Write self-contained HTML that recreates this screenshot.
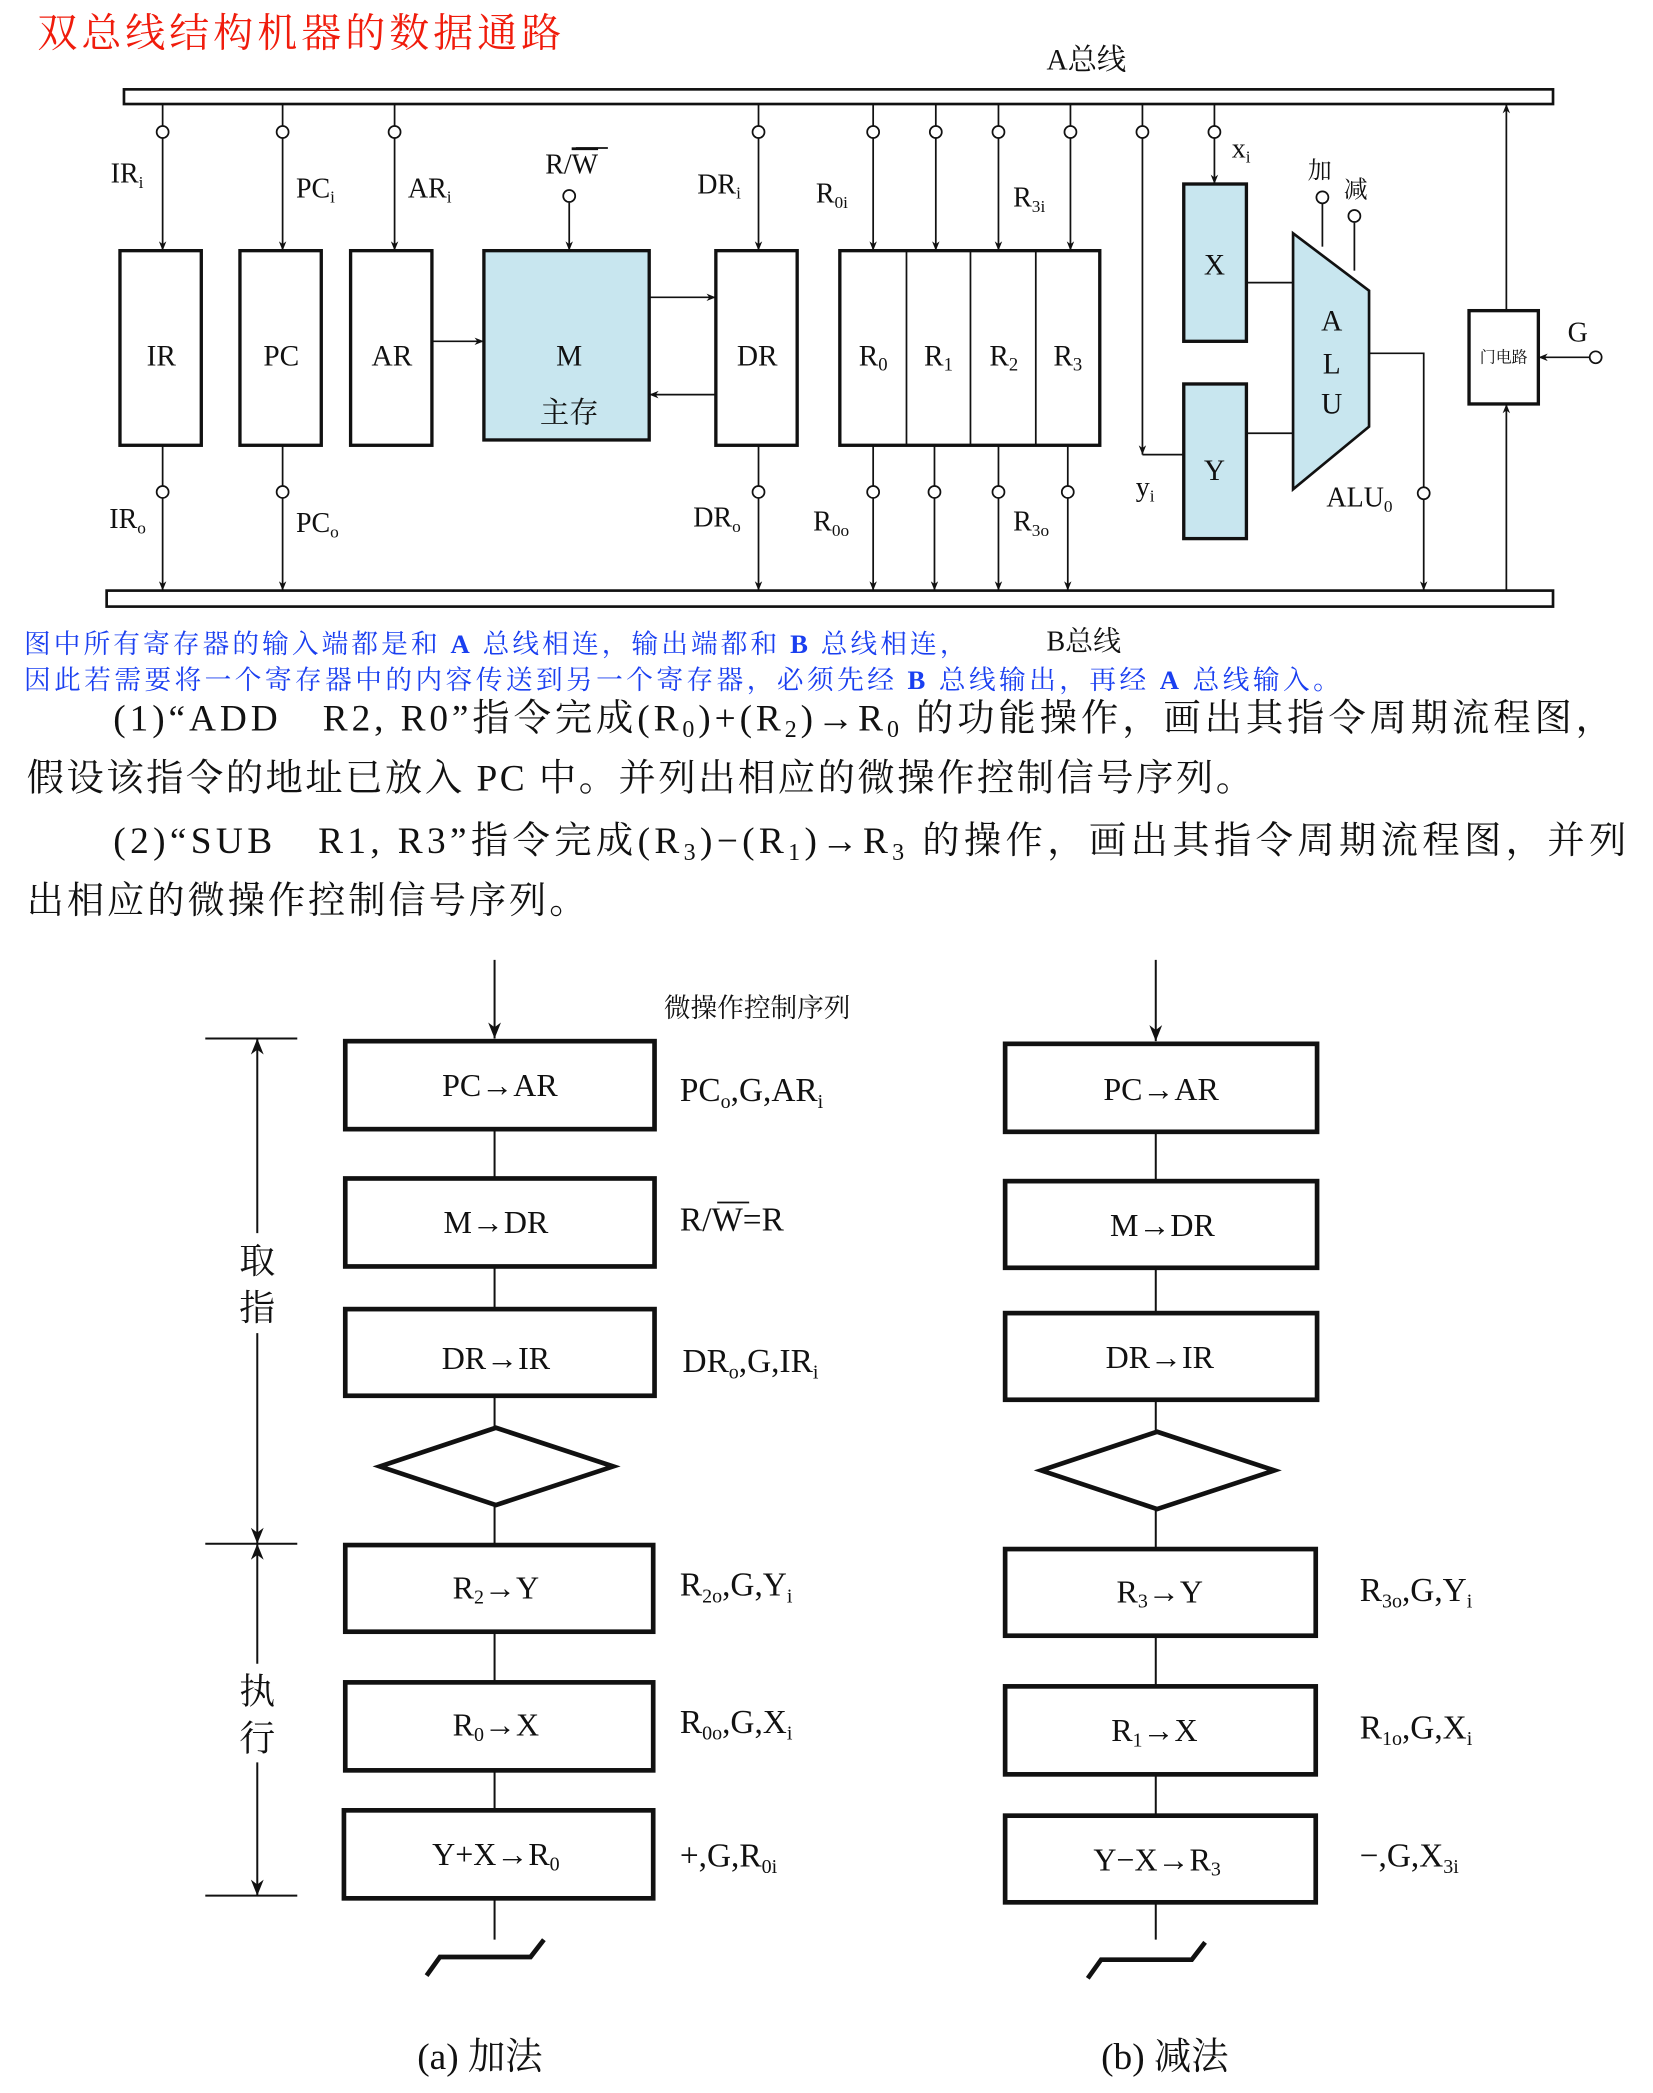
<!DOCTYPE html>
<html><head><meta charset="utf-8"><style>
html,body{margin:0;padding:0;background:#fff;}
svg{display:block;}
text{font-family:"Liberation Serif","Noto Serif CJK SC",serif;fill:#111;}
.cj{font-family:"Liberation Serif","Noto Serif CJK SC","Noto Sans CJK SC",serif;}
</style></head><body>
<svg width="1653" height="2093" viewBox="0 0 1240 1570" xmlns="http://www.w3.org/2000/svg">
<defs>
<marker id="a" viewBox="0 0 10 10" refX="10" refY="5" markerWidth="7" markerHeight="7" orient="auto-start-reverse" markerUnits="userSpaceOnUse"><path d="M0,1 L10,5 L0,9 L3,5 z" fill="#111"/></marker>
<marker id="b" viewBox="0 0 10 10" refX="10" refY="5" markerWidth="12" markerHeight="12" orient="auto-start-reverse" markerUnits="userSpaceOnUse"><path d="M0,1 L10,5 L0,9 L3,5 z" fill="#111"/></marker>
</defs>
<g stroke="#111" fill="none" stroke-width="1.3">
<!-- buses -->
<rect x="93" y="67" width="1072" height="11" stroke-width="2"/>
<rect x="80" y="443" width="1085" height="12" stroke-width="2"/>
<!-- registers -->
<rect x="90" y="188" width="61" height="146" stroke-width="2.5"/>
<rect x="180" y="188" width="61" height="146" stroke-width="2.5"/>
<rect x="263" y="188" width="61" height="146" stroke-width="2.5"/>
<rect x="363" y="188" width="124" height="142" fill="#c8e6ef" stroke-width="2.5"/>
<rect x="537" y="188" width="61" height="146" stroke-width="2.5"/>
<rect x="630" y="188" width="195" height="146" stroke-width="2.5"/>
<line x1="680" y1="188" x2="680" y2="334"/><line x1="728" y1="188" x2="728" y2="334"/><line x1="777" y1="188" x2="777" y2="334"/>
<rect x="888" y="138" width="47" height="118" fill="#c8e6ef" stroke-width="2.5"/>
<rect x="888" y="288" width="47" height="116" fill="#c8e6ef" stroke-width="2.5"/>
<polygon points="970,175 1027,218 1027,320 970,367" fill="#c8e6ef" stroke-width="2"/>
<rect x="1102" y="233" width="52" height="70" stroke-width="2.5"/>
<!-- input lines -->
<g marker-end="url(#a)">
<line x1="122" y1="78" x2="122" y2="188"/><line x1="212" y1="78" x2="212" y2="188"/><line x1="296" y1="78" x2="296" y2="188"/>
<line x1="569" y1="78" x2="569" y2="188"/><line x1="655" y1="78" x2="655" y2="188"/><line x1="702" y1="78" x2="702" y2="188"/>
<line x1="749" y1="78" x2="749" y2="188"/><line x1="803" y1="78" x2="803" y2="188"/><line x1="911" y1="78" x2="911" y2="138"/>
<line x1="857" y1="78" x2="857" y2="341"/>
<line x1="427" y1="152" x2="427" y2="188"/>
<line x1="324" y1="256" x2="363" y2="256"/><line x1="487" y1="223" x2="537" y2="223"/><line x1="537" y1="296" x2="487" y2="296"/>
<line x1="122" y1="334" x2="122" y2="443"/><line x1="212" y1="334" x2="212" y2="443"/><line x1="569" y1="334" x2="569" y2="443"/>
<line x1="655" y1="334" x2="655" y2="443"/><line x1="701" y1="334" x2="701" y2="443"/><line x1="749" y1="334" x2="749" y2="443"/><line x1="801" y1="334" x2="801" y2="443"/>
<polyline points="1027,265 1068,265 1068,443"/>
<line x1="1130" y1="233" x2="1130" y2="78"/><line x1="1130" y1="443" x2="1130" y2="303"/>
<line x1="1192" y1="268" x2="1154" y2="268"/>
</g>
<polyline points="857,341 888,341"/>
<line x1="935" y1="212" x2="970" y2="212"/><line x1="935" y1="325" x2="970" y2="325"/>
<line x1="992" y1="153" x2="992" y2="185"/><line x1="1016" y1="167" x2="1016" y2="203"/>
<g fill="#fff">
<circle cx="122" cy="99" r="4.5"/><circle cx="212" cy="99" r="4.5"/><circle cx="296" cy="99" r="4.5"/><circle cx="569" cy="99" r="4.5"/>
<circle cx="655" cy="99" r="4.5"/><circle cx="702" cy="99" r="4.5"/><circle cx="749" cy="99" r="4.5"/><circle cx="803" cy="99" r="4.5"/>
<circle cx="857" cy="99" r="4.5"/><circle cx="911" cy="99" r="4.5"/><circle cx="427" cy="147" r="4.5"/>
<circle cx="992" cy="148" r="4.5"/><circle cx="1016" cy="162" r="4.5"/><circle cx="1197" cy="268" r="4.5"/>
<circle cx="122" cy="369" r="4.5"/><circle cx="212" cy="369" r="4.5"/><circle cx="569" cy="369" r="4.5"/><circle cx="655" cy="369" r="4.5"/>
<circle cx="701" cy="369" r="4.5"/><circle cx="749" cy="369" r="4.5"/><circle cx="801" cy="369" r="4.5"/><circle cx="1068" cy="370" r="4.5"/>
</g>
</g>
<!-- top labels -->
<text x="28" y="35" font-size="30" fill="#f01c0c" style="fill:#f01c0c" class="cj" textLength="393">双总线结构机器的数据通路</text>
<text x="785" y="52" font-size="22" class="cj">A总线</text>
<g font-size="22" text-anchor="middle">
<text x="121" y="274">IR</text><text x="211" y="274">PC</text><text x="294" y="274">AR</text>
<text x="427" y="274">M</text><text x="427" y="317" class="cj">主存</text><text x="568" y="274">DR</text>
<text x="655" y="274">R<tspan font-size="14" dy="4">0</tspan></text><text x="704" y="274">R<tspan font-size="14" dy="4">1</tspan></text>
<text x="753" y="274">R<tspan font-size="14" dy="4">2</tspan></text><text x="801" y="274">R<tspan font-size="14" dy="4">3</tspan></text>
<text x="911" y="206">X</text><text x="911" y="360">Y</text>
<text x="999" y="248">A</text><text x="999" y="280">L</text><text x="999" y="310">U</text>
</g>
<text x="1128" y="272" font-size="12" text-anchor="middle" class="cj">门电路</text>
<g font-size="21">
<text x="83" y="137">IR<tspan font-size="13" dy="4">i</tspan></text>
<text x="222" y="148">PC<tspan font-size="13" dy="4">i</tspan></text>
<text x="306" y="148">AR<tspan font-size="13" dy="4">i</tspan></text>
<text x="409" y="130">R/<tspan text-decoration="overline">W</tspan></text>
<line x1="432" y1="111" x2="456" y2="111" stroke="#111" stroke-width="1.3"/>
<text x="523" y="145">DR<tspan font-size="13" dy="4">i</tspan></text>
<text x="612" y="152">R<tspan font-size="13" dy="4">0i</tspan></text>
<text x="760" y="155">R<tspan font-size="13" dy="4">3i</tspan></text>
<text x="924" y="118">x<tspan font-size="13" dy="4">i</tspan></text>
<text x="981" y="134" font-size="18" class="cj">加</text><text x="1008" y="148" font-size="18" class="cj">减</text>
<text x="1176" y="256">G</text>
<text x="82" y="396">IR<tspan font-size="13" dy="4">o</tspan></text>
<text x="222" y="399">PC<tspan font-size="13" dy="4">o</tspan></text>
<text x="520" y="395">DR<tspan font-size="13" dy="4">o</tspan></text>
<text x="610" y="398">R<tspan font-size="13" dy="4">0o</tspan></text>
<text x="760" y="398">R<tspan font-size="13" dy="4">3o</tspan></text>
<text x="852" y="372">y<tspan font-size="13" dy="4">i</tspan></text>
<text x="995" y="380">ALU<tspan font-size="13" dy="4">0</tspan></text>
</g>
<g font-size="20" class="cj">
<text x="18" y="490" style="fill:#1a3ff0" textLength="707">图中所有寄存器的输入端都是和 <tspan font-weight="bold">A</tspan> 总线相连，输出端都和 <tspan font-weight="bold">B</tspan> 总线相连，</text>
<text x="18" y="517" style="fill:#1a3ff0" textLength="987">因此若需要将一个寄存器中的内容传送到另一个寄存器，必须先经 <tspan font-weight="bold">B</tspan> 总线输出，再经 <tspan font-weight="bold">A</tspan> 总线输入。</text>
<text x="785" y="488" font-size="21">B总线</text>
</g>
<g font-size="28" class="cj">
<text x="85" y="548" textLength="1125">(1)“ADD　R2, R0”指令完成(R<tspan font-size="18" dy="5">0</tspan><tspan dy="-5">)+(R</tspan><tspan font-size="18" dy="5">2</tspan><tspan dy="-5">)→R</tspan><tspan font-size="18" dy="5">0</tspan><tspan dy="-5"> 的功能操作，画出其指令周期流程图，</tspan></text>
<text x="20" y="593" textLength="920">假设该指令的地址已放入 PC 中。并列出相应的微操作控制信号序列。</text>
<text x="85" y="640" textLength="1135">(2)“SUB　R1, R3”指令完成(R<tspan font-size="18" dy="5">3</tspan><tspan dy="-5">)−(R</tspan><tspan font-size="18" dy="5">1</tspan><tspan dy="-5">)→R</tspan><tspan font-size="18" dy="5">3</tspan><tspan dy="-5"> 的操作，画出其指令周期流程图，并列</tspan></text>
<text x="20" y="685" textLength="420">出相应的微操作控制信号序列。</text>
</g>
<!-- flowcharts -->
<g stroke="#111" fill="none" stroke-width="1.5">
<line x1="371" y1="720" x2="371" y2="779" marker-end="url(#b)"/>
<line x1="867" y1="720" x2="867" y2="781" marker-end="url(#b)"/>
<line x1="371" y1="781" x2="371" y2="1455"/>
<line x1="867" y1="783" x2="867" y2="1455"/>
<g fill="#fff" stroke-width="3.5">
<rect x="259" y="781" width="232" height="66"/><rect x="259" y="884" width="232" height="66"/><rect x="259" y="982" width="232" height="65"/>
<polygon points="285,1100 372,1071 460,1100 372,1129"/>
<rect x="259" y="1159" width="231" height="65"/><rect x="259" y="1262" width="231" height="66"/><rect x="258" y="1358" width="232" height="66"/>
<rect x="754" y="783" width="234" height="66"/><rect x="754" y="886" width="234" height="65"/><rect x="754" y="985" width="234" height="65"/>
<polygon points="781,1103 868,1074 956,1103 868,1132"/>
<rect x="754" y="1162" width="233" height="65"/><rect x="754" y="1265" width="233" height="66"/><rect x="754" y="1362" width="233" height="65"/>
</g>
<polyline points="320,1482 330,1468 398,1468 408,1455" stroke-width="3.5"/>
<polyline points="816,1484 826,1470 894,1470 904,1457" stroke-width="3.5"/>
<line x1="154" y1="779" x2="223" y2="779"/><line x1="154" y1="1158" x2="223" y2="1158"/><line x1="154" y1="1422" x2="223" y2="1422"/>
<line x1="193" y1="925" x2="193" y2="779" marker-end="url(#b)"/><line x1="193" y1="1000" x2="193" y2="1158" marker-end="url(#b)"/>
<line x1="193" y1="1248" x2="193" y2="1158" marker-end="url(#b)"/><line x1="193" y1="1322" x2="193" y2="1422" marker-end="url(#b)"/>
</g>
<g font-size="24" text-anchor="middle">
<text x="375" y="822">PC→AR</text><text x="372" y="925">M→DR</text><text x="372" y="1027">DR→IR</text>
<text x="372" y="1199">R<tspan font-size="15" dy="4">2</tspan><tspan dy="-4">→Y</tspan></text>
<text x="372" y="1302">R<tspan font-size="15" dy="4">0</tspan><tspan dy="-4">→X</tspan></text>
<text x="372" y="1399">Y+X→R<tspan font-size="15" dy="4">0</tspan></text>
<text x="871" y="825">PC→AR</text><text x="872" y="927">M→DR</text><text x="870" y="1026">DR→IR</text>
<text x="870" y="1202">R<tspan font-size="15" dy="4">3</tspan><tspan dy="-4">→Y</tspan></text>
<text x="866" y="1306">R<tspan font-size="15" dy="4">1</tspan><tspan dy="-4">→X</tspan></text>
<text x="868" y="1403">Y−X→R<tspan font-size="15" dy="4">3</tspan></text>
</g>
<g font-size="25">
<text x="498" y="763" font-size="20" class="cj">微操作控制序列</text>
<text x="510" y="826">PC<tspan font-size="15" dy="5">o</tspan><tspan dy="-5">,G,AR</tspan><tspan font-size="15" dy="5">i</tspan></text>
<text x="510" y="923">R/<tspan>W</tspan>=R</text>
<line x1="538" y1="902" x2="562" y2="902" stroke="#111" stroke-width="1.3"/>
<text x="512" y="1029">DR<tspan font-size="15" dy="5">o</tspan><tspan dy="-5">,G,IR</tspan><tspan font-size="15" dy="5">i</tspan></text>
<text x="510" y="1197">R<tspan font-size="15" dy="5">2o</tspan><tspan dy="-5">,G,Y</tspan><tspan font-size="15" dy="5">i</tspan></text>
<text x="510" y="1300">R<tspan font-size="15" dy="5">0o</tspan><tspan dy="-5">,G,X</tspan><tspan font-size="15" dy="5">i</tspan></text>
<text x="510" y="1400">+,G,R<tspan font-size="15" dy="5">0i</tspan></text>
<text x="1020" y="1201">R<tspan font-size="15" dy="5">3o</tspan><tspan dy="-5">,G,Y</tspan><tspan font-size="15" dy="5">i</tspan></text>
<text x="1020" y="1304">R<tspan font-size="15" dy="5">1o</tspan><tspan dy="-5">,G,X</tspan><tspan font-size="15" dy="5">i</tspan></text>
<text x="1020" y="1400">−,G,X<tspan font-size="15" dy="5">3i</tspan></text>
</g>
<g font-size="27" class="cj" text-anchor="middle">
<text x="193" y="955">取</text><text x="193" y="990">指</text>
<text x="193" y="1278">执</text><text x="193" y="1313">行</text>
</g>
<g font-size="28" class="cj">
<text x="313" y="1552">(a) 加法</text><text x="826" y="1552">(b) 减法</text>
</g>
</svg>
</body></html>
